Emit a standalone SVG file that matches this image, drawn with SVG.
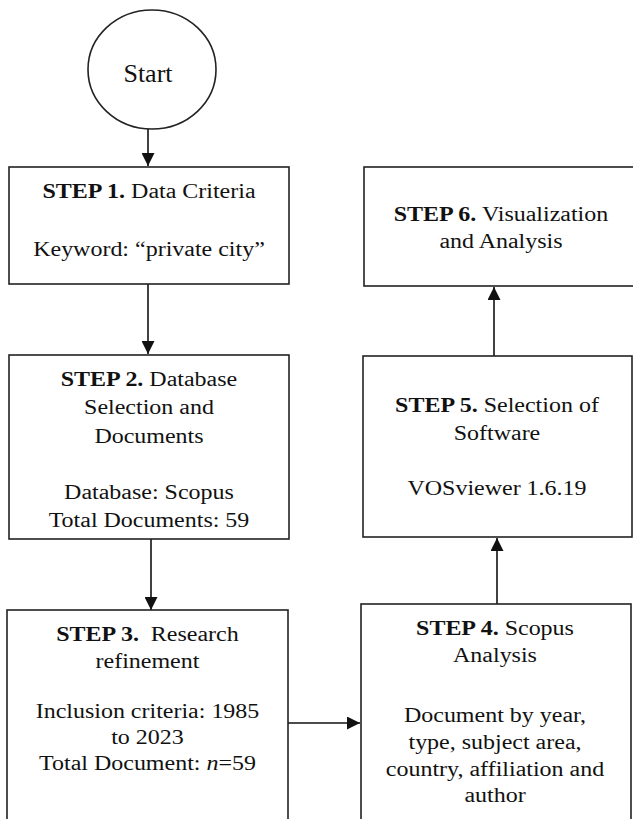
<svg xmlns="http://www.w3.org/2000/svg" width="633" height="819" viewBox="0 0 633 819">
<style>
.box{fill:#fff;stroke:#222;stroke-width:1.6}
.t{font-family:"Liberation Serif","Times New Roman",serif;font-size:20.5px;fill:#111;text-anchor:middle}
.b{font-weight:bold}
.c{stroke:#111;stroke-width:1.6;fill:none}
</style>
<defs>
<marker id="ah" viewBox="0 0 10 10" refX="10" refY="5" markerWidth="13" markerHeight="13" markerUnits="userSpaceOnUse" orient="auto">
<path d="M0,0 L10,5 L0,10 Z" fill="#111"/>
</marker>
</defs>
<rect width="633" height="819" fill="#fff"/>
<g id="connectors">
<line class="c" x1="148" y1="129" x2="148" y2="166" marker-end="url(#ah)"/>
<line class="c" x1="148" y1="284" x2="148" y2="354" marker-end="url(#ah)"/>
<line class="c" x1="151" y1="539" x2="151" y2="610" marker-end="url(#ah)"/>
<line class="c" x1="288" y1="723" x2="360" y2="723" marker-end="url(#ah)"/>
<line class="c" x1="497" y1="604" x2="497" y2="538" marker-end="url(#ah)"/>
<line class="c" x1="494" y1="356" x2="494" y2="287" marker-end="url(#ah)"/>
</g>
<g id="start">
<ellipse cx="152" cy="69.5" rx="64" ry="59.5" fill="#fff" stroke="#222" stroke-width="1.6"/>
<text x="148" y="82" style="font-family:'Liberation Serif','Times New Roman',serif;font-size:26px;fill:#111;text-anchor:middle">Start</text>
</g>
<g id="step1">
<rect class="box" x="9" y="167" width="280" height="117"/>
<g transform="translate(149,0) scale(1.17,1) translate(-149,0)">
<text class="t" x="149" y="198"><tspan class="b">STEP 1.</tspan> Data Criteria</text>
<text class="t" x="149" y="256">Keyword: “private city”</text>
</g>
</g>
<g id="step2">
<rect class="box" x="9" y="355" width="280" height="184"/>
<g transform="translate(149,0) scale(1.17,1) translate(-149,0)">
<text class="t" x="149" y="386"><tspan class="b">STEP 2.</tspan> Database</text>
<text class="t" x="149" y="414">Selection and</text>
<text class="t" x="149" y="443">Documents</text>
<text class="t" x="149" y="499">Database: Scopus</text>
<text class="t" x="149" y="527">Total Documents: 59</text>
</g>
</g>
<g id="step3">
<rect class="box" x="7" y="610" width="281" height="220"/>
<g transform="translate(147.5,0) scale(1.17,1) translate(-147.5,0)">
<text class="t" x="147.5" y="641"><tspan class="b">STEP 3.</tspan>&#160; Research</text>
<text class="t" x="147.5" y="668">refinement</text>
<text class="t" x="147.5" y="718">Inclusion criteria: 1985</text>
<text class="t" x="147.5" y="744">to 2023</text>
<text class="t" x="147.5" y="770">Total Document: <tspan font-style="italic">n</tspan>=59</text>
</g>
</g>
<g id="step4">
<rect class="box" x="361" y="604" width="270" height="226"/>
<g transform="translate(495,0) scale(1.17,1) translate(-495,0)">
<text class="t" x="495" y="635"><tspan class="b">STEP 4.</tspan> Scopus</text>
<text class="t" x="495" y="662">Analysis</text>
<text class="t" x="495" y="722">Document by year,</text>
<text class="t" x="495" y="749">type, subject area,</text>
<text class="t" x="495" y="776">country, affiliation and</text>
<text class="t" x="495" y="802">author</text>
</g>
</g>
<g id="step5">
<rect class="box" x="363" y="356" width="269" height="181"/>
<g transform="translate(497,0) scale(1.17,1) translate(-497,0)">
<text class="t" x="497" y="412"><tspan class="b">STEP 5.</tspan> Selection of</text>
<text class="t" x="497" y="440">Software</text>
<text class="t" x="497" y="495">VOSviewer 1.6.19</text>
</g>
</g>
<g id="step6">
<rect class="box" x="364" y="167" width="276" height="119"/>
<g transform="translate(501,0) scale(1.17,1) translate(-501,0)">
<text class="t" x="501" y="221"><tspan class="b">STEP 6.</tspan> Visualization</text>
<text class="t" x="501" y="248">and Analysis</text>
</g>
</g>
</svg>
